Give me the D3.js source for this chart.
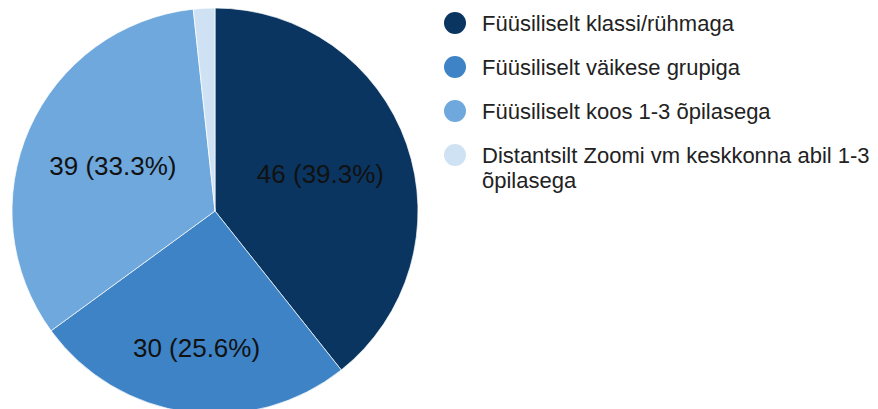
<!DOCTYPE html>
<html>
<head>
<meta charset="utf-8">
<script src="https://cdnjs.cloudflare.com/ajax/libs/d3/7.8.5/d3.min.js"></script>
<style>
  body { margin: 0; background: #fff; }
  text { font-family: "Liberation Sans", Arial, sans-serif; }
</style>
</head>
<body>
<div id="chart"></div>
<script>
// data
var categories = [
    "Füüsiliselt klassi/rühmaga",
    "Füüsiliselt väikese grupiga",
    "Füüsiliselt koos 1-3 õpilasega",
    "Distantsilt Zoomi vm keskkonna abil 1-3 õpilasega"
];
var counts = [46, 30, 39, 2];
var colors = ["#0a3561", "#3d83c6", "#6fa8dc", "#cfe2f3"];

var width = 878;
var height = 409;
var cx = 215;
var cy = 211;
var radius = 203;

var svg = d3.select("#chart")
    .append("svg")
    .attr("width", width)
    .attr("height", height);

var total = d3.sum(counts);
var pie = d3.pie().sort(null).value(function (d) { return d; });
var arcs = pie(counts);

var arc = d3.arc().innerRadius(0).outerRadius(radius);

var g = svg.append("g").attr("transform", "translate(" + cx + "," + cy + ")");

g.selectAll("path")
    .data(arcs)
    .enter()
    .append("path")
    .attr("d", arc)
    .attr("fill", function (d, i) { return colors[i]; })
    .attr("stroke", "#fff")
    .attr("stroke-width", 0.7);

// slice labels (skip the tiny one)
g.selectAll("text.lbl")
    .data(arcs.filter(function (d) { return d.value / total > 0.05; }))
    .enter()
    .append("text")
    .attr("class", "lbl")
    .attr("transform", function (d) {
        var mid = (d.startAngle + d.endAngle) / 2;
        // labels near the bottom sit further out
        var k = Math.abs(mid - Math.PI) < 0.5 ? 0.68 : 0.55;
        var c = d3.arc().innerRadius(radius * k).outerRadius(radius * k).centroid(d);
        return "translate(" + c[0] + "," + c[1] + ")";
    })
    .attr("text-anchor", "middle")
    .attr("dy", ".35em")
    .style("font-size", "26px")
    .style("fill", "#111")
    .text(function (d) {
        return d.value + " (" + (d.value / total * 100).toFixed(1) + "%)";
    });

// legend
var legX = 455;
var legY = 23;
var legStep = 44;
var leg = svg.append("g");

categories.forEach(function (name, i) {
    var y = legY + i * legStep;
    leg.append("circle")
        .attr("cx", legX)
        .attr("cy", y)
        .attr("r", 11)
        .attr("fill", colors[i]);

    var t = leg.append("text")
        .attr("x", legX + 27)
        .attr("y", y)
        .attr("dy", ".35em")
        .style("font-size", "22px")
        .style("fill", "#222");

    if (i === 3) {
        t.append("tspan").attr("x", legX + 27).text("Distantsilt Zoomi vm keskkonna abil 1-3");
        t.append("tspan").attr("x", legX + 27).attr("dy", "1.15em").text("õpilasega");
    } else {
        t.text(name);
    }
});
</script>
</body>
</html>
